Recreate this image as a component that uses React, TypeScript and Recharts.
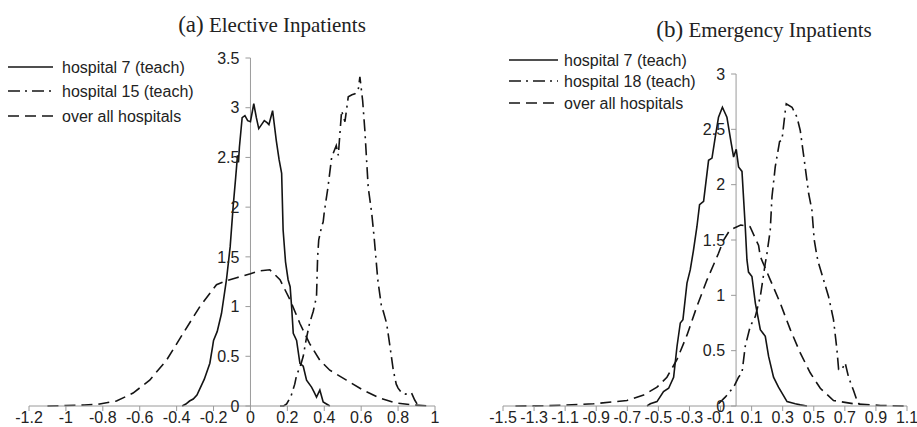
import React from "react";
import { LineChart, Line, XAxis, YAxis, ReferenceLine } from "recharts";

// ---------- data ----------
const electiveH7: [number, number][] = [
  [-0.37, 0], [-0.35, 0.02], [-0.33, 0.05], [-0.31, 0.07], [-0.29, 0.11], [-0.25, 0.27],
  [-0.22, 0.43], [-0.205, 0.6], [-0.2, 0.66], [-0.18, 0.75], [-0.157, 0.93], [-0.13, 1.27],
  [-0.11, 1.6], [-0.094, 2.0], [-0.08, 2.3], [-0.07, 2.52], [-0.065, 2.45], [-0.06, 2.6],
  [-0.045, 2.9], [-0.03, 2.92], [-0.015, 2.87], [0, 2.86], [0.018, 3.04], [0.032, 2.9],
  [0.045, 2.79], [0.06, 2.83], [0.075, 2.87], [0.09, 2.85], [0.1, 2.83], [0.12, 2.97],
  [0.14, 2.67], [0.155, 2.48], [0.169, 2.34], [0.177, 1.77], [0.19, 1.45], [0.204, 1.27],
  [0.215, 1.2], [0.223, 1.0], [0.232, 0.73], [0.25, 0.66], [0.268, 0.43], [0.286, 0.4],
  [0.304, 0.26], [0.331, 0.19], [0.345, 0.14], [0.358, 0.09], [0.376, 0.16], [0.394, 0.04],
  [0.421, 0.01], [0.43, 0],
];
const electiveH15: [number, number][] = [
  [0.16, 0], [0.18, 0], [0.196, 0.02], [0.22, 0.1], [0.24, 0.22], [0.25, 0.31], [0.27, 0.4],
  [0.286, 0.5], [0.3, 0.65], [0.32, 0.83], [0.34, 0.95], [0.358, 1.1], [0.364, 1.5],
  [0.37, 1.67], [0.385, 1.8], [0.394, 1.85], [0.4, 1.95], [0.42, 2.2], [0.44, 2.5],
  [0.465, 2.62], [0.476, 2.52], [0.494, 2.97], [0.505, 2.9], [0.512, 2.86], [0.53, 3.11],
  [0.55, 3.13], [0.566, 3.14], [0.584, 3.18], [0.593, 3.31], [0.608, 3.07], [0.62, 2.77],
  [0.638, 2.2], [0.657, 1.94], [0.67, 1.7], [0.69, 1.27], [0.71, 1.0], [0.72, 0.95],
  [0.738, 0.83], [0.756, 0.6], [0.774, 0.36], [0.79, 0.22], [0.8, 0.18], [0.82, 0.13],
  [0.84, 0.12], [0.873, 0.13], [0.89, 0.06], [0.91, 0],
];
const electiveAll: [number, number][] = [
  [-1.1, 0], [-1.0, 0.005], [-0.9, 0.01], [-0.817, 0.02], [-0.726, 0.05], [-0.636, 0.13],
  [-0.546, 0.26], [-0.455, 0.46], [-0.365, 0.73], [-0.274, 1.0], [-0.184, 1.22],
  [-0.13, 1.26], [-0.075, 1.29], [0, 1.33], [0.05, 1.36], [0.105, 1.37], [0.16, 1.27],
  [0.214, 1.07], [0.268, 0.83], [0.32, 0.63], [0.376, 0.46], [0.43, 0.36], [0.52, 0.26],
  [0.61, 0.16], [0.7, 0.08], [0.79, 0.03], [0.88, 0.01], [0.97, 0],
];

const emergencyH7: [number, number][] = [
  [-0.573, 0], [-0.552, 0.02], [-0.509, 0.04], [-0.467, 0.13], [-0.434, 0.16], [-0.402, 0.26],
  [-0.38, 0.54], [-0.359, 0.75], [-0.342, 0.78], [-0.316, 1.11], [-0.295, 1.23], [-0.275, 1.4],
  [-0.252, 1.62], [-0.235, 1.82], [-0.209, 1.85], [-0.177, 2.22], [-0.155, 2.24],
  [-0.134, 2.43], [-0.113, 2.61], [-0.088, 2.7], [-0.059, 2.61], [-0.033, 2.39],
  [-0.016, 2.25], [0.001, 2.32], [0.016, 2.16], [0.038, 2.12], [0.059, 1.62], [0.07, 1.32],
  [0.08, 1.21], [0.102, 1.17], [0.124, 0.93], [0.156, 0.69], [0.188, 0.63], [0.209, 0.45],
  [0.241, 0.26], [0.273, 0.17], [0.328, 0.04], [0.381, 0.02], [0.413, 0.01], [0.456, 0],
];
const emergencyH18: [number, number][] = [
  [-0.113, 0.02], [-0.07, 0.08], [-0.016, 0.17], [0.016, 0.26], [0.038, 0.3], [0.059, 0.54],
  [0.091, 0.72], [0.124, 0.81], [0.156, 0.99], [0.188, 1.29], [0.199, 1.38], [0.22, 1.59],
  [0.231, 1.89], [0.252, 2.16], [0.28, 2.39], [0.295, 2.4], [0.317, 2.67], [0.323, 2.73],
  [0.36, 2.7], [0.392, 2.61], [0.413, 2.49], [0.439, 2.22], [0.467, 1.92], [0.488, 1.77],
  [0.503, 1.5], [0.521, 1.35], [0.531, 1.29], [0.563, 1.14], [0.595, 0.99], [0.627, 0.78],
  [0.649, 0.51], [0.66, 0.33], [0.681, 0.33], [0.702, 0.39], [0.724, 0.26], [0.756, 0.14],
  [0.778, 0.05], [0.799, 0],
];
const emergencyAll: [number, number][] = [
  [-1.42, 0], [-1.2, 0.003], [-0.917, 0.02], [-0.702, 0.05], [-0.595, 0.1], [-0.509, 0.17],
  [-0.445, 0.26], [-0.38, 0.42], [-0.316, 0.64], [-0.252, 0.9], [-0.187, 1.14],
  [-0.113, 1.38], [-0.08, 1.5], [-0.04, 1.59], [0.03, 1.635], [0.09, 1.62], [0.145, 1.45],
  [0.156, 1.35], [0.22, 1.14], [0.284, 0.93], [0.349, 0.69], [0.413, 0.48], [0.477, 0.3],
  [0.542, 0.16], [0.627, 0.05], [0.756, 0.02], [0.93, 0.005], [1.1, 0],
];

const electiveTicksX = [-1.2, -1, -0.8, -0.6, -0.4, -0.2, 0, 0.2, 0.4, 0.6, 0.8, 1];
const electiveTicksY = [0, 0.5, 1, 1.5, 2, 2.5, 3, 3.5];
const emergencyTicksX = [-1.5, -1.3, -1.1, -0.9, -0.7, -0.5, -0.3, -0.1, 0.1, 0.3, 0.5, 0.7, 0.9, 1.1];
const emergencyTicksY = [0, 0.5, 1, 1.5, 2, 2.5, 3];

const legendElective = ["hospital 7 (teach)", "hospital 15 (teach)", "over all hospitals"];
const legendEmergency = ["hospital 7 (teach)", "hospital 18 (teach)", "over all hospitals"];
const titleElective = ["(a)", " Elective Inpatients"];
const titleEmergency = ["(b)", " Emergency Inpatients"];

// ---------- styles ----------
const SANS = '"Liberation Sans", Arial, sans-serif';
const SERIF = '"Liberation Serif", "Times New Roman", serif';
const AXIS = "#9a9a9a";
const INK = "#141414";
const DASHES = ["", "12 5 2 5", "11 6"];
const Y_AXIS_W = 10;

const toPts = (arr: [number, number][]) => arr.map(([x, y]) => ({ x, y }));

type PanelProps = {
  left: number;
  width: number;
  height: number;
  margin: { top: number; left: number; right: number; bottom: number };
  xDomain: [number, number];
  yDomain: [number, number];
  xTicks: number[];
  yTicks: number[];
  series: [number, number][][];
};

function Panel(p: PanelProps) {
  const plotLeft = p.margin.left + Y_AXIS_W;
  const plotW = p.width - plotLeft - p.margin.right;
  const zeroX = plotLeft + ((0 - p.xDomain[0]) / (p.xDomain[1] - p.xDomain[0])) * plotW;
  const renderYTick = (props: any) => {
    const { y, payload } = props;
    return (
      <g>
        <line x1={zeroX - 5} x2={zeroX} y1={y} y2={y} stroke={AXIS} strokeWidth={1} />
        <text x={zeroX - 11} y={y} dy="0.36em" textAnchor="end" fill="#222" fontSize={16} fontFamily={SANS}>
          {payload.value}
        </text>
      </g>
    );
  };
  return (
    <div style={{ position: "absolute", left: p.left, top: 0 }}>
      <LineChart width={p.width} height={p.height} margin={p.margin}>
        <XAxis
          type="number"
          dataKey="x"
          domain={p.xDomain}
          ticks={p.xTicks}
          interval={0}
          allowDataOverflow
          height={21}
          tickSize={5}
          tickMargin={1}
          stroke={AXIS}
          tick={{ fill: "#222", fontSize: 16, fontFamily: SANS }}
        />
        <YAxis
          type="number"
          dataKey="y"
          domain={p.yDomain}
          ticks={p.yTicks}
          interval={0}
          width={Y_AXIS_W}
          axisLine={false}
          tickLine={false}
          tick={renderYTick}
        />
        <ReferenceLine x={0} stroke={AXIS} strokeWidth={1} />
        {p.series.map((s, i) => (
          <Line
            key={i}
            data={toPts(s)}
            dataKey="y"
            type="linear"
            stroke={INK}
            strokeWidth={1.6}
            strokeDasharray={DASHES[i] || undefined}
            dot={false}
            activeDot={false}
            isAnimationActive={false}
          />
        ))}
      </LineChart>
    </div>
  );
}

function Legend({ x0, x1, tx, ys, labels }: { x0: number; x1: number; tx: number; ys: number[]; labels: string[] }) {
  return (
    <g>
      {labels.map((l, i) => (
        <g key={i}>
          <line x1={x0} x2={x1} y1={ys[i]} y2={ys[i]} stroke={INK} strokeWidth={1.6} strokeDasharray={DASHES[i] || undefined} />
          <text x={tx} y={ys[i]} dy="0.36em" fontSize={16} fontFamily={SANS} fill="#222">
            {l}
          </text>
        </g>
      ))}
    </g>
  );
}

export default function App() {
  return (
    <div style={{ position: "absolute", left: 0, top: 0, width: 917, height: 427, background: "#fff", overflow: "hidden" }}>
      <Panel
        left={0}
        width={460}
        height={427}
        margin={{ top: 58, left: 19, right: 25, bottom: 0 }}
        xDomain={[-1.2, 1]}
        yDomain={[0, 3.5]}
        xTicks={electiveTicksX}
        yTicks={electiveTicksY}
        series={[electiveH7, electiveH15, electiveAll]}
      />
      <Panel
        left={460}
        width={457}
        height={427}
        margin={{ top: 74, left: 33, right: 10, bottom: 0 }}
        xDomain={[-1.5, 1.1]}
        yDomain={[0, 3]}
        xTicks={emergencyTicksX}
        yTicks={emergencyTicksY}
        series={[emergencyH7, emergencyH18, emergencyAll]}
      />
      <svg width={917} height={427} style={{ position: "absolute", left: 0, top: 0, pointerEvents: "none" }}>
        <text x={272} y={32} textAnchor="middle" fontFamily={SERIF} fontSize={21} fill="#222">
          <tspan fontSize={23}>{titleElective[0]}</tspan>
          <tspan>{titleElective[1]}</tspan>
        </text>
        <text x={764} y={37} textAnchor="middle" fontFamily={SERIF} fontSize={21} fill="#222">
          <tspan fontSize={23}>{titleEmergency[0]}</tspan>
          <tspan>{titleEmergency[1]}</tspan>
        </text>
        <Legend x0={8} x1={53} tx={62} ys={[67, 91, 116]} labels={legendElective} />
        <Legend x0={509} x1={558} tx={564} ys={[60, 81, 103]} labels={legendEmergency} />
      </svg>
    </div>
  );
}
